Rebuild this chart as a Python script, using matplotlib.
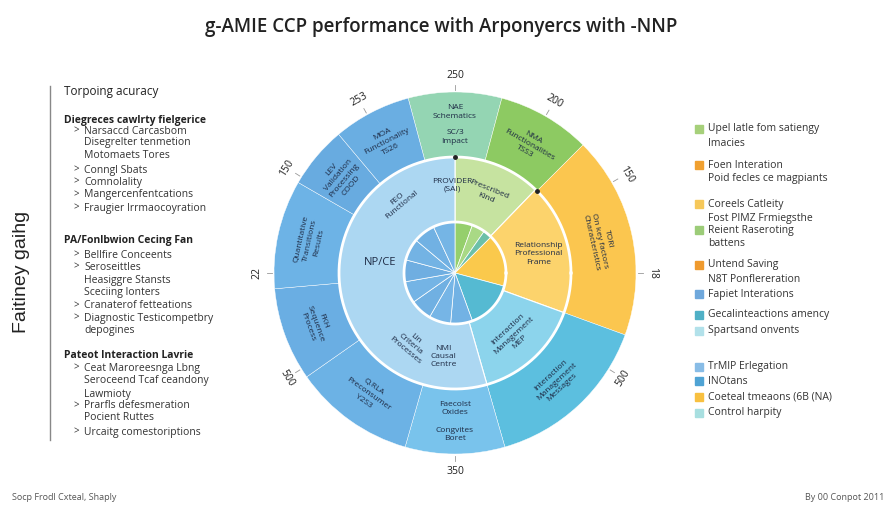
import numpy as np
import matplotlib.pyplot as plt

plt.rcParams['font.family'] = ['Open Sans', 'DejaVu Sans']

# ---- data ----
title = "g-AMIE CCP performance with Arponyercs with -NNP"

# outer ring, clockwise from -15 deg (spans in degrees)
outer_spans = [30, 30, 65, 54, 32, 39, 30, 35, 20, 25]
outer_colors = ["#94d5b3", "#8dca62", "#fbc64f", "#5cbfdf", "#79c3ec",
                "#6cb2e5", "#6aaee3", "#6db3e6", "#68abe0", "#6aaee2"]
outer_labels = ["NAE\nSchematics\n\nSC/3\nImpact", "NMA\nFunctionalities\nTSS3",
                "TORI\nOn key factors\nCharacteristics", "Interaction\nManagement\nMessages",
                "Faecolst\nOxides\n\nCongvites\nBoret", "Q.RLA\nPreconsumer\nY2S3",
                "FKH\nSequence\nProcess", "Quantitative\nTransitions\nResults",
                "LEV\nValidation\nProcessing\nCOOD", "MOA\nFunctionality\nTS26"]

# middle ring, clockwise from 0 deg
middle_spans = [44, 66, 54, 196]
middle_colors = ["#c6e3a0", "#fcd36c", "#8cd4ec", "#acd7f2"]
middle_labels = ["Prescribed\nKind", "Relationship\nProfessional\nFrame",
                 "Interaction\nManagement\nMEP", ""]
middle_extra = [("NP/CE", 278, 76, 8, 0), ("FEO\nFunctional", 322, 90, 6, 40),
                ("PROVIDER\n(SAI)", 358, 88, 6, 0), ("Lin\nCriteria\nProcesses", 212, 84, 6, -40),
                ("NMI\nCausal\nCentre", 188, 84, 6, 0)]

# inner pie, clockwise from 0 deg
inner_spans = [20, 15, 10, 60, 55, 25, 25, 25, 25, 25, 25, 25, 25]
inner_colors = ["#95cf6c", "#a9d985", "#6cc0a8", "#fac94c", "#55bad2",
                "#72b2e4", "#76b5e6", "#70b0e2", "#74b4e5", "#6faee1",
                "#73b3e4", "#71b1e3", "#75b5e5"]

# tick labels round the rim
tick_angles = [0, 30, 60, 90, 122, 180, 238, 270, 302, 331]
tick_labels = ["250", "200", "150", "18", "500", "350", "500", "22", "150", "253"]

left_items = [
    ("Torpoing acuracy", "head"),
    ("Diegreces cawlrty fielgerice", "bold"),
    ("Narsaccd Carcasbom", "bullet"), ("Disegrelter tenmetion", "cont"),
    ("Motomaets Tores", "cont"), ("Conngl Sbats", "bullet"), ("Comnolality", "bullet"),
    ("Mangercenfentcations", "bullet"), ("Fraugier Irrmaocoyration", "bullet"),
    ("PA/Fonlbwion Cecing Fan", "bold"),
    ("Bellfire Conceents", "bullet"), ("Seroseittles", "bullet"), ("Heasiggre Stansts", "cont"),
    ("Sceciing lonters", "cont"), ("Cranaterof fetteations", "bullet"),
    ("Diagnostic Testicompetbry", "bullet"), ("depogines", "cont"),
    ("Pateot Interaction Lavrie", "bold"),
    ("Ceat Maroreesnga Lbng", "bullet"), ("Seroceend Tcaf ceandony", "cont"),
    ("Lawmioty", "cont"), ("Prarfls defesmeration", "bullet"), ("Pocient Ruttes", "cont"),
    ("Urcaitg comestoriptions", "bullet"),
]
left_y = [91, 120, 131, 143, 156, 170, 182, 195, 208, 241, 255, 267, 280, 293, 306,
          318, 331, 355, 368, 381, 394, 406, 418, 432]

legend_items = [
    ("#a6d07a", "Upel latle fom satiengy", "Imacies"),
    ("#f0a030", "Foen Interation", "Poid fecles ce magpiants"),
    ("#f6c85a", "Coreels Catleity", "Fost PIMZ Frmiegsthe"),
    ("#9ccc78", "Reient Raseroting", "battens"),
    ("#ef9a2e", "Untend Saving", "N8T Ponflereration"),
    ("#6fa8dc", "Fapiet Interations", None),
    ("#4fb0c6", "Gecalinteactions amency", None),
    ("#b2e1ea", "Spartsand onvents", None),
    ("#88bce6", "TrMIP Erlegation", None),
    ("#4fa3d4", "INOtans", None),
    ("#f8c040", "Coeteal tmeaons (6B (NA)", None),
    ("#a8dfe0", "Control harpity", None),
]
legend_y = [129, 165, 204, 230, 265, 294, 315, 331, 367, 381, 397, 413]

W, H = 896, 512
fig = plt.figure(figsize=(W / 100, H / 100), dpi=100)
fig.patch.set_facecolor("white")

def fx(px):
    return px / W

def fy(py):
    return 1 - py / H

# ---- sunburst ----
cx, cy, half = 455, 273, 215
ax = fig.add_axes([fx(cx - half), fy(cy + half), 2 * half / W, 2 * half / H])
R_out, R_mid, R_in = 181, 116, 51
txt_col = "#1e2b45"

ax.pie(outer_spans, colors=outer_colors, radius=R_out, startangle=90 + 15,
       counterclock=False, wedgeprops=dict(width=R_out - R_mid, edgecolor="white", linewidth=0.3))
ax.pie(middle_spans, colors=middle_colors, radius=R_mid, startangle=90,
       counterclock=False, wedgeprops=dict(width=R_mid - R_in, edgecolor="white", linewidth=0.8))
ax.pie(inner_spans, colors=inner_colors, radius=R_in, startangle=90,
       counterclock=False, wedgeprops=dict(edgecolor="white", linewidth=0.5))
# white ring borders
th = np.linspace(0, 2 * np.pi, 400)
for r in (R_mid, R_in):
    ax.plot(r * np.cos(th), r * np.sin(th), color="white", lw=2)
ax.set_xlim(-half, half)
ax.set_ylim(-half, half)
ax.set_aspect("equal")
ax.axis("off")

def polar(a, r):
    t = np.deg2rad(90 - a)
    return r * np.cos(t), r * np.sin(t)

def tang(a):
    rot = -a
    if 90 < a % 360 < 270:
        rot += 180
    return rot

# outer labels
start = -15
for span, lab in zip(outer_spans, outer_labels):
    mid = start + span / 2
    x, y = polar(mid, (R_out + R_mid) / 2)
    rot = 0 if abs(((mid + 180) % 360) - 180) < 16 or abs(mid - 180) < 16 else tang(mid)
    ax.text(x, y, lab, ha="center", va="center", fontsize=6, color=txt_col,
            rotation=rot, linespacing=1.3)
    start += span

start = 0
for span, lab in zip(middle_spans, middle_labels):
    mid = start + span / 2
    x, y = polar(mid, (R_mid + R_in) / 2 + 2)
    rot = 0 if 60 < mid < 100 else tang(mid)
    ax.text(x, y, lab, ha="center", va="center", fontsize=6, color=txt_col,
            rotation=rot, linespacing=1.3)
    start += span
for lab, a, r, fs, rot in middle_extra:
    x, y = polar(a, r)
    ax.text(x, y, lab, ha="center", va="center", fontsize=fs, color=txt_col,
            rotation=rot, linespacing=1.2)

# rim ticks
for a, lab in zip(tick_angles, tick_labels):
    x0, y0 = polar(a, R_out + 2)
    x1, y1 = polar(a, R_out + 7)
    ax.plot([x0, x1], [y0, y1], color="#999999", lw=0.6)
    x, y = polar(a, R_out + 17)
    ax.text(x, y, lab, ha="center", va="center", fontsize=7.5, color="#222222",
            rotation=tang(a))

# small dots on the middle ring
for a in (0, 45):
    x, y = polar(a, R_mid)
    ax.plot(x, y, "o", color="#222222", ms=2.5)

# ---- title and footer ----
fig.text(fx(441), fy(27), title, ha="center", va="center", fontsize=13.5,
         color="#222222", fontweight="semibold")
fig.text(fx(12), fy(498), "Socp Frodl Cxteal, Shaply", ha="left", va="center",
         fontsize=6.5, color="#555555")
fig.text(fx(884), fy(498), "By 00 Conpot 2011", ha="right", va="center",
         fontsize=6.5, color="#555555")

# ---- left panel ----
fig.add_artist(plt.Line2D([fx(50), fx(50)], [fy(86), fy(440)], color="#888888", lw=1))
fig.text(fx(22), fy(272), "Faitiney gaihg", rotation=90, ha="center", va="center",
         fontsize=14, color="#222222", family=["Liberation Sans"])
for (txt, kind), y in zip(left_items, left_y):
    if kind == "head":
        fig.text(fx(64), fy(y), txt, fontsize=8.5, va="center", color="#222222")
    elif kind == "bold":
        fig.text(fx(64), fy(y), txt, fontsize=7.5, va="center", color="#222222",
                 fontweight="bold")
    elif kind == "bullet":
        fig.text(fx(73), fy(y), ">", fontsize=7, va="center", color="#333333")
        fig.text(fx(84), fy(y), txt, fontsize=7.5, va="center", color="#333333")
    else:
        fig.text(fx(84), fy(y), txt, fontsize=7.5, va="center", color="#333333")

# ---- right legend ----
for (col, t1, t2), y in zip(legend_items, legend_y):
    fig.add_artist(plt.Rectangle((fx(695), fy(y + 4)), 8 / W, 8 / H, color=col,
                                 transform=fig.transFigure))
    fig.text(fx(708), fy(y), t1, fontsize=7.5, va="center", color="#333333")
    if t2:
        fig.text(fx(708), fy(y + 14), t2, fontsize=7.5, va="center", color="#333333")

fig.savefig("out.png", dpi=100)
